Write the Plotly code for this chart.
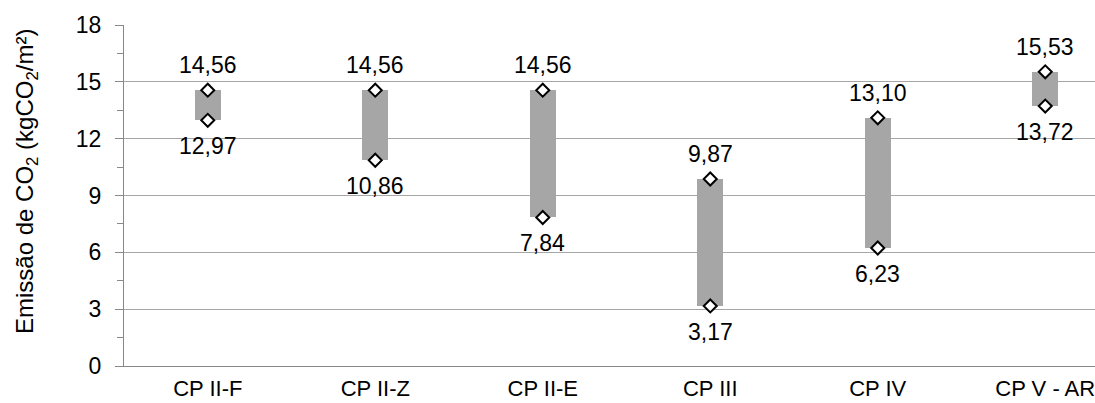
import plotly.graph_objects as go

categories = ["CP II-F", "CP II-Z", "CP II-E", "CP III", "CP IV", "CP V - AR"]
high_values = [14.56, 14.56, 14.56, 9.87, 13.10, 15.53]
low_values = [12.97, 10.86, 7.84, 3.17, 6.23, 13.72]
y_ticks = [0, 3, 6, 9, 12, 15, 18]
y_title = "Emissão de CO<sub>2</sub> (kgCO<sub>2</sub>/m²)"

FONT = "Liberation Sans, Arial, sans-serif"


def fmt(v):
    return f"{v:.2f}".replace(".", ",")


fig = go.Figure()

fig.add_trace(go.Bar(
    x=categories,
    y=[h - l for h, l in zip(high_values, low_values)],
    base=low_values,
    width=0.153,
    marker=dict(color="#a6a6a6", line=dict(width=0)),
    showlegend=False,
    hoverinfo="skip",
))

for vals in (high_values, low_values):
    fig.add_trace(go.Scatter(
        x=categories,
        y=vals,
        mode="markers",
        marker=dict(symbol="diamond", size=10, color="white",
                    line=dict(color="black", width=2)),
        showlegend=False,
        cliponaxis=False,
    ))

annotations = []
for c, v in zip(categories, high_values):
    annotations.append(dict(x=c, y=v, text=fmt(v), showarrow=False,
                            xanchor="center", yanchor="middle", yshift=25,
                            font=dict(family=FONT, size=23, color="black")))
for c, v in zip(categories, low_values):
    annotations.append(dict(x=c, y=v, text=fmt(v), showarrow=False,
                            xanchor="center", yanchor="middle", yshift=-26,
                            font=dict(family=FONT, size=23, color="black")))

# y-axis title as rotated annotation
annotations.append(dict(
    text=y_title, textangle=-90, showarrow=False,
    xref="paper", yref="paper",
    x=(26 - 124) / 971, y=(366 - 182) / 341,
    xanchor="center", yanchor="middle",
    font=dict(family=FONT, size=24, color="black"),
))

fig.update_layout(
    template="none",
    width=1095,
    height=403,
    margin=dict(l=124, r=0, t=25, b=37),
    paper_bgcolor="white",
    plot_bgcolor="white",
    font=dict(family=FONT, size=23, color="black"),
    annotations=annotations,
    bargap=0,
    xaxis=dict(
        type="category",
        range=[-0.5, 5.297],
        showgrid=False,
        showline=True,
        linecolor="#888888",
        linewidth=1,
        ticks="",
        automargin=False,
        ticklabelstandoff=3,
        tickfont=dict(family=FONT, size=22, color="black"),
        zeroline=False,
    ),
    yaxis=dict(
        range=[0, 18],
        tickvals=y_ticks,
        showgrid=True,
        gridcolor="#a6a6a6",
        gridwidth=1,
        showline=True,
        linecolor="#888888",
        linewidth=1,
        ticks="outside",
        ticklen=8,
        tickcolor="#888888",
        automargin=False,
        ticklabelstandoff=9,
        tickfont=dict(family=FONT, size=23, color="black"),
        zeroline=False,
        minor=dict(dtick=1.5, tick0=0, ticks="outside", ticklen=6,
                   tickcolor="#888888", showgrid=False),
    ),
)

fig.write_html("out.html", config={"displayModeBar": False},
               post_script="document.body.style.margin='0';")
